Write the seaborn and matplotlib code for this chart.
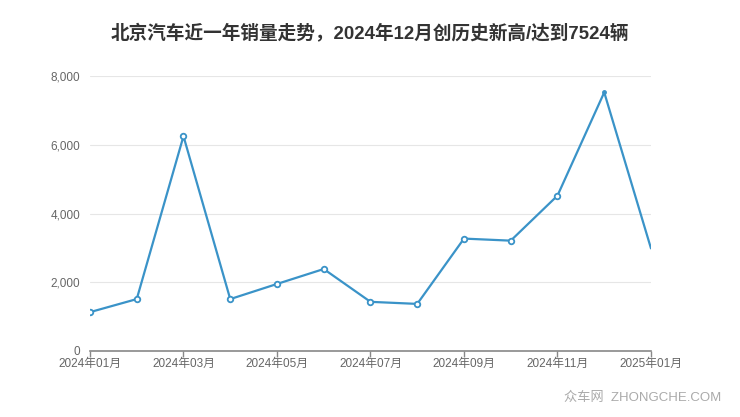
import numpy as np
import pandas as pd
import seaborn as sns
import matplotlib.pyplot as plt

months = ['2024年01月', '2024年02月', '2024年03月', '2024年04月', '2024年05月',
          '2024年06月', '2024年07月', '2024年08月', '2024年09月', '2024年10月',
          '2024年11月', '2024年12月', '2025年01月']
sales = [1130, 1510, 6250, 1510, 1950, 2385, 1430, 1370, 3270, 3210, 4520, 7524, 2985]
yticks = [0, 2000, 4000, 6000, 8000]
title = '北京汽车近一年销量走势，2024年12月创历史新高/达到7524辆'

sns.set_style('white')
plt.rcParams['font.family'] = ['Liberation Sans', 'Noto Sans CJK SC', 'DejaVu Sans']

df = pd.DataFrame({'pos': np.arange(len(months)), 'sales': sales})
line_color = '#3a93c8'

fig = plt.figure(figsize=(7.4, 4.17), dpi=100)
ax = fig.add_axes([0.1216, 0.1583, 0.7581, 0.6594])

sns.lineplot(data=df, x='pos', y='sales', ax=ax, color=line_color, linewidth=1.6)
# hollow markers on all points except the last two
pts = df.iloc[:11]
ax.plot(pts['pos'], pts['sales'], linestyle='none', marker='o', markersize=4,
        markerfacecolor='white', markeredgecolor=line_color, markeredgewidth=1.3)
ax.plot(df['pos'].iloc[11], df['sales'].iloc[11], marker='o', markersize=2.5, color=line_color)

ax.set_xlim(0, len(months) - 1)
ax.set_ylim(0, 8000)
ax.set_yticks(yticks)
ax.set_yticklabels([f'{v:,}' for v in yticks])
ax.set_xticks(range(0, len(months), 2))
ax.set_xticklabels(months[::2])
ax.set_xlabel('')
ax.set_ylabel('')

ax.grid(axis='y', color='#e6e6e6', linewidth=0.8)
ax.set_axisbelow(True)
for side in ['top', 'right', 'left']:
    ax.spines[side].set_visible(False)
ax.spines['bottom'].set_color('#888888')
ax.spines['bottom'].set_linewidth(1.2)
ax.tick_params(axis='x', length=4, width=1, color='#888888', labelsize=8.5,
               labelcolor='#666666', pad=1, direction='out', bottom=True)
ax.tick_params(axis='y', length=0, labelsize=8.5, labelcolor='#666666', pad=7)

fig.text(0.5, 0.92, title, ha='center', va='center', fontsize=13.4,
         fontweight='bold', color='#333333',
         family=['Liberation Sans', 'Noto Sans CJK SC'])
fig.text(0.975, 0.045, '众车网  ZHONGCHE.COM', ha='right', va='center',
         fontsize=9.5, color='#aaaaaa')

fig.savefig('out.png', dpi=100)
